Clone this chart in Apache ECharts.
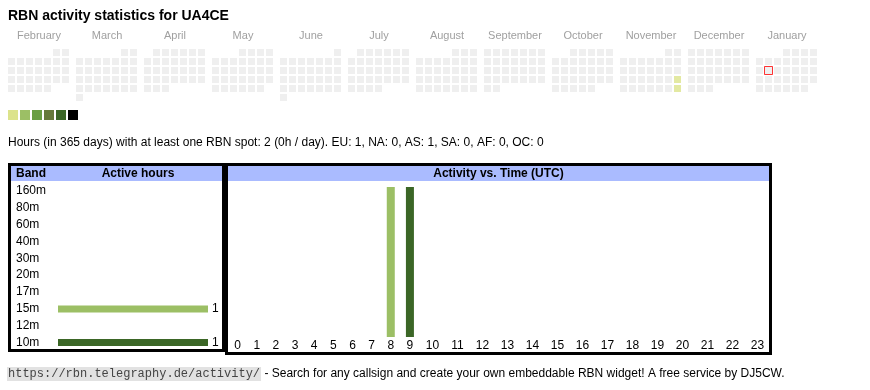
<!DOCTYPE html>
<html><head><meta charset="utf-8">
<script src="https://cdn.jsdelivr.net/npm/echarts@6/dist/echarts.min.js"></script>
<style>html,body{margin:0;padding:0;background:#fff}#c{width:870px;height:390px}</style>
</head><body><div id="c"></div>
<script>
// ---------- data ----------
const titleText = 'RBN activity statistics for UA4CE';
const summaryText = 'Hours (in 365 days) with at least one RBN spot: 2 (0h / day). EU: 1, NA: 0, AS: 1, SA: 0, AF: 0, OC: 0';
const monthKeys = ['2025-02','2025-03','2025-04','2025-05','2025-06','2025-07','2025-08','2025-09','2025-10','2025-11','2025-12','2026-01'];
const monthNames = ['February','March','April','May','June','July','August','September','October','November','December','January'];
const activeDays = ['2025-11-23','2025-11-30'];
const activeDayValues = [1, 1];
const markedDay = '2026-01-13';
const levelColors = ['#dce38b','#9cbf65','#6a9e44','#65793a','#3b6626','#000000'];
const emptyColor = '#ebebeb';
const bands = ['160m','80m','60m','40m','30m','20m','17m','15m','12m','10m'];
const bandActiveHours = [0,0,0,0,0,0,0,1,0,1];
const bandColors = ['#dce38b','#dce38b','#dce38b','#dce38b','#dce38b','#dce38b','#dce38b','#9cbf65','#6a9e44','#3b6626'];
const hourLabels = ['0','1','2','3','4','5','6','7','8','9','10','11','12','13','14','15','16','17','18','19','20','21','22','23'];
const hours15m = [0,0,0,0,0,0,0,0,1,0,0,0,0,0,0,0,0,0,0,0,0,0,0,0];
const hours10m = [0,0,0,0,0,0,0,0,0,1,0,0,0,0,0,0,0,0,0,0,0,0,0,0];
const footerUrl = 'https://rbn.telegraphy.de/activity/';
const footerText = ' - Search for any callsign and create your own embeddable RBN widget! A free service by DJ5CW.';

// ---------- build ----------
const FONT = '"Liberation Sans", Arial, Helvetica, sans-serif';
const HEAD = '#aabbff';
const chart = echarts.init(document.getElementById('c'), null, {renderer: 'canvas', width: 870, height: 390});

function daysOfMonth(key) {
  const [y, m] = key.split('-').map(Number);
  const n = new Date(Date.UTC(y, m, 0)).getUTCDate();
  const out = [];
  for (let d = 1; d <= n; d++) out.push(key + '-' + String(d).padStart(2, '0'));
  return out;
}

const MONTH_STEP = 68, CAL_LEFT = 7, CAL_TOP = 48, CELL = 9;

const calendars = monthKeys.map((k, i) => ({
  left: CAL_LEFT + MONTH_STEP * i, top: CAL_TOP, cellSize: [CELL, CELL], orient: 'vertical', range: k,
  splitLine: {show: false},
  itemStyle: {color: 'rgba(0,0,0,0)', borderWidth: 0, borderColor: 'rgba(0,0,0,0)'},
  dayLabel: {show: false, firstDay: 1}, monthLabel: {show: false}, yearLabel: {show: false}
}));

const series = monthKeys.map((k, i) => ({
  type: 'scatter', coordinateSystem: 'calendar', calendarIndex: i, symbol: 'rect', symbolSize: 7,
  silent: true, animation: false,
  data: daysOfMonth(k).map(d => {
    const j = activeDays.indexOf(d);
    const v = j >= 0 ? activeDayValues[j] : 0;
    const item = {value: [d, v], itemStyle: {color: v > 0 ? levelColors[v - 1] : emptyColor}};
    if (d === markedDay) {
      item.symbolSize = 8;
      item.itemStyle.borderColor = '#ff0000';
      item.itemStyle.borderWidth = 1;
    }
    return item;
  })
}));

// band bar chart (grid 0)
series.push({
  type: 'bar', xAxisIndex: 0, yAxisIndex: 0, barWidth: 7, silent: true, animation: false,
  data: bandActiveHours.map((v, i) => ({value: v, itemStyle: {color: bandColors[i]}})),
  label: {show: true, position: 'right', distance: 4, fontSize: 12, fontFamily: FONT, color: '#000',
    formatter: p => p.value > 0 ? String(p.value) : ''}
});

// hour bars (grid 1: 0-9, grid 2: 10-23)
const split = 10;
[[0, split, 1], [split, 24, 2]].forEach(([a, b, g]) => {
  series.push({type: 'bar', xAxisIndex: g, yAxisIndex: g, stack: 's' + g, barWidth: 8, silent: true, animation: false,
    itemStyle: {color: bandColors[7]}, data: hours15m.slice(a, b)});
  series.push({type: 'bar', xAxisIndex: g, yAxisIndex: g, stack: 's' + g, barWidth: 8, silent: true, animation: false,
    itemStyle: {color: bandColors[9]}, data: hours10m.slice(a, b)});
});

const hourAxis = (labels) => ({
  type: 'category', data: labels, axisLine: {show: false}, axisTick: {show: false}, splitLine: {show: false},
  axisLabel: {interval: 0, margin: 3, fontSize: 12, fontFamily: FONT, color: '#000'}
});
const hiddenVal = (gi) => ({type: 'value', gridIndex: gi, min: 0, max: 1, show: false, splitLine: {show: false}});

const graphics = [];
graphics.push({type: 'text', left: 8, top: 9, style: {text: titleText, font: 'bold 14px ' + FONT, fill: '#000'}});
monthNames.forEach((name, i) => {
  graphics.push({type: 'text', x: CAL_LEFT + MONTH_STEP * i + 32, y: 35.5,
    style: {text: name, font: '11px ' + FONT, fill: '#a0a0a0', align: 'center', verticalAlign: 'middle'}});
});
levelColors.forEach((c, i) => {
  graphics.push({type: 'rect', shape: {x: 8 + 12 * i, y: 110, width: 10, height: 10}, style: {fill: c}});
});
graphics.push({type: 'text', x: 8, y: 142.5, style: {text: summaryText, font: '12px ' + FONT, fill: '#000', verticalAlign: 'middle'}});
// boxes
graphics.push({type: 'rect', shape: {x: 11, y: 166, width: 211, height: 15}, style: {fill: HEAD}});
graphics.push({type: 'rect', shape: {x: 228, y: 166, width: 541, height: 15}, style: {fill: HEAD}});
graphics.push({type: 'rect', shape: {x: 9.5, y: 164.5, width: 214, height: 186}, style: {fill: null, stroke: '#000', lineWidth: 3}});
graphics.push({type: 'rect', shape: {x: 226.5, y: 164.5, width: 544, height: 189}, style: {fill: null, stroke: '#000', lineWidth: 3}});
graphics.push({type: 'text', x: 16, y: 173.5, style: {text: 'Band', font: 'bold 12px ' + FONT, fill: '#000', verticalAlign: 'middle'}});
graphics.push({type: 'text', x: 138, y: 173.5, style: {text: 'Active hours', font: 'bold 12px ' + FONT, fill: '#000', align: 'center', verticalAlign: 'middle'}});
graphics.push({type: 'text', x: 498.5, y: 173.5, style: {text: 'Activity vs. Time (UTC)', font: 'bold 12px ' + FONT, fill: '#000', align: 'center', verticalAlign: 'middle'}});
// footer
graphics.push({type: 'text', x: 7, y: 374, style: {
  text: '{u|' + footerUrl + '}{t|' + footerText + '}', verticalAlign: 'middle',
  rich: {
    u: {fontFamily: '"Liberation Mono", "Courier New", monospace', fontSize: 12, fill: '#444', backgroundColor: '#e2e2e2', padding: [1, 1, 1, 1]},
    t: {fontFamily: FONT, fontSize: 12, fill: '#000'}
  }
}});

chart.setOption({
  animation: false,
  backgroundColor: '#fff',
  calendar: calendars,
  grid: [
    {left: 58, top: 182.5, width: 150, height: 168.5, containLabel: false},
    {left: 228, top: 187, width: 191.5, height: 150, containLabel: false},
    {left: 420, top: 187, width: 350, height: 150, containLabel: false}
  ],
  xAxis: [
    {type: 'value', gridIndex: 0, min: 0, max: 1, show: false, splitLine: {show: false}},
    Object.assign({gridIndex: 1}, hourAxis(hourLabels.slice(0, split))),
    Object.assign({gridIndex: 2}, hourAxis(hourLabels.slice(split)))
  ],
  yAxis: [
    {type: 'category', gridIndex: 0, data: bands, inverse: true, axisLine: {show: false}, axisTick: {show: false},
      axisLabel: {align: 'left', margin: 42, fontSize: 12, fontFamily: FONT, color: '#000'}},
    hiddenVal(1), hiddenVal(2)
  ],
  series: series,
  graphic: graphics
});
</script>
</body></html>
